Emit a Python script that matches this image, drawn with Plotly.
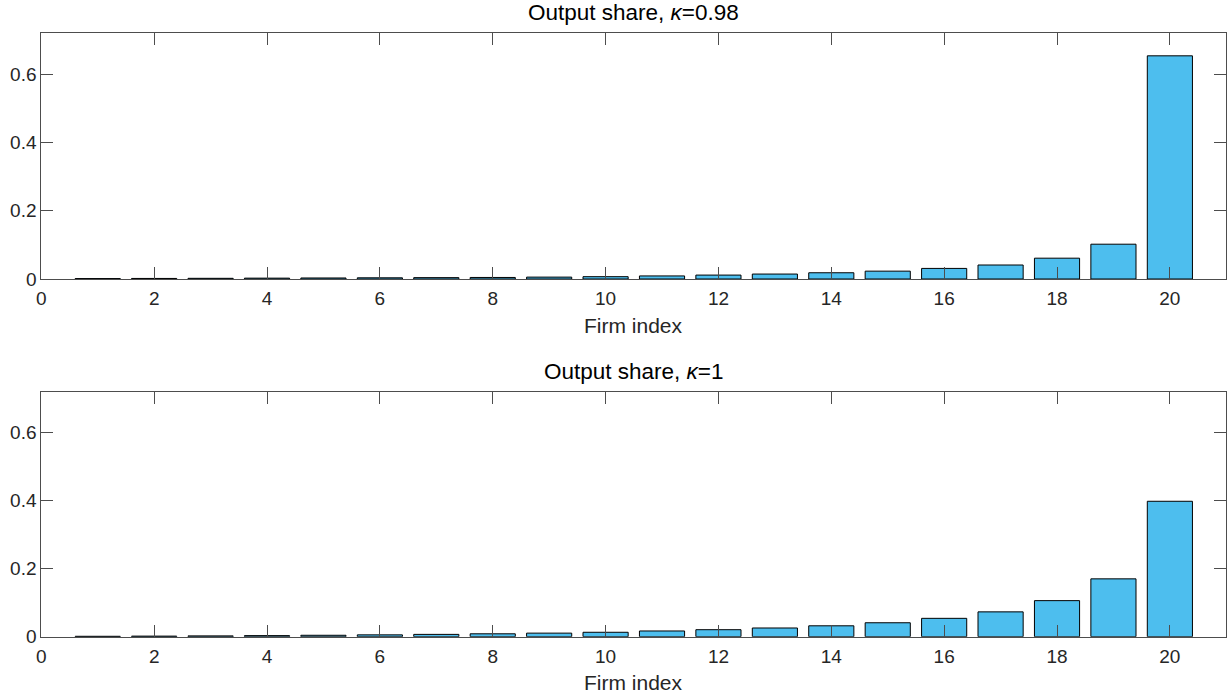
import plotly.graph_objects as go

firm_index = list(range(1, 21))
share_k098 = [0.0012, 0.0016, 0.0020, 0.0025, 0.0030, 0.0035, 0.0040, 0.0045,
              0.0055, 0.0068, 0.0090, 0.0115, 0.0145, 0.0183, 0.0230, 0.0310,
              0.0410, 0.0610, 0.1020, 0.6540]
share_k1 = [0.0012, 0.0017, 0.0024, 0.0032, 0.0042, 0.0054, 0.0068, 0.0085,
            0.0105, 0.0130, 0.0168, 0.0206, 0.0256, 0.0320, 0.0410, 0.0540,
            0.0730, 0.1060, 0.1700, 0.3980]
titles = ["Output share, <i>κ</i>=0.98", "Output share, <i>κ</i>=1"]
x_label = "Firm index"
x_ticks = list(range(0, 21, 2))
y_ticks = [0, 0.2, 0.4, 0.6]
y_tick_text = ["0", "0.2", "0.4", "0.6"]

W, H = 1231, 696
FONT = "Liberation Sans, Arial, Helvetica, sans-serif"
TXT = "#262626"
AX = "#4d4d4d"
BAR = "#4DBEEE"

# plot-area pixel boxes: (left, top, right, bottom)
boxes = [(41.3, 33.3, 1226.3, 279.0), (41.3, 391.7, 1226.3, 636.7)]

fig = go.Figure()
series = [share_k098, share_k1]
for i, (vals, box) in enumerate(zip(series, boxes)):
    n = "" if i == 0 else str(i + 1)
    fig.add_trace(go.Bar(
        x=firm_index, y=vals, width=0.8,
        marker=dict(color=BAR, line=dict(color="black", width=1)),
        xaxis="x" + n, yaxis="y" + n, showlegend=False,
    ))
    l, t, r, b = box
    fig.layout["xaxis" + n] = dict(
        domain=[l / W, r / W], anchor="y" + n, range=[0, 21],
        tickvals=x_ticks, ticks="inside", ticklen=12, tickwidth=1, tickcolor=AX,
        showline=True, linecolor=AX, linewidth=1, mirror="ticks",
        showgrid=False, zeroline=False, ticklabelstandoff=2, automargin=False,
        tickfont=dict(family=FONT, size=19, color=TXT),
    )
    fig.layout["yaxis" + n] = dict(
        domain=[1 - b / H, 1 - t / H], anchor="x" + n, range=[0, 0.72],
        tickvals=y_ticks, ticktext=y_tick_text, ticks="inside", ticklen=12,
        tickwidth=1, tickcolor=AX,
        showline=True, linecolor=AX, linewidth=1, mirror="ticks",
        showgrid=False, zeroline=False, ticklabelstandoff=0, automargin=False,
        tickfont=dict(family=FONT, size=19, color=TXT),
    )
    cx = (l + r) / 2 / W
    fig.add_annotation(text=titles[i], x=cx, y=1 - (t - 20.5) / H, xref="paper", yref="paper",
                       xanchor="center", yanchor="middle", showarrow=False,
                       font=dict(family=FONT, size=22.5, color="black"))
    fig.add_annotation(text=x_label, x=cx, y=1 - (b + 46) / H, xref="paper", yref="paper",
                       xanchor="center", yanchor="middle", showarrow=False,
                       font=dict(family=FONT, size=21, color=TXT))

fig.update_layout(
    width=W, height=H, margin=dict(l=0, r=0, t=0, b=0, pad=0),
    paper_bgcolor="white", plot_bgcolor="white",
)
post = ("document.documentElement.style.margin='0';"
        "document.body.style.margin='0';"
        "document.documentElement.style.overflow='hidden';"
        "document.body.style.overflow='hidden';"
        "document.body.style.height='696px';")
fig.write_html("out.html", post_script=post)
